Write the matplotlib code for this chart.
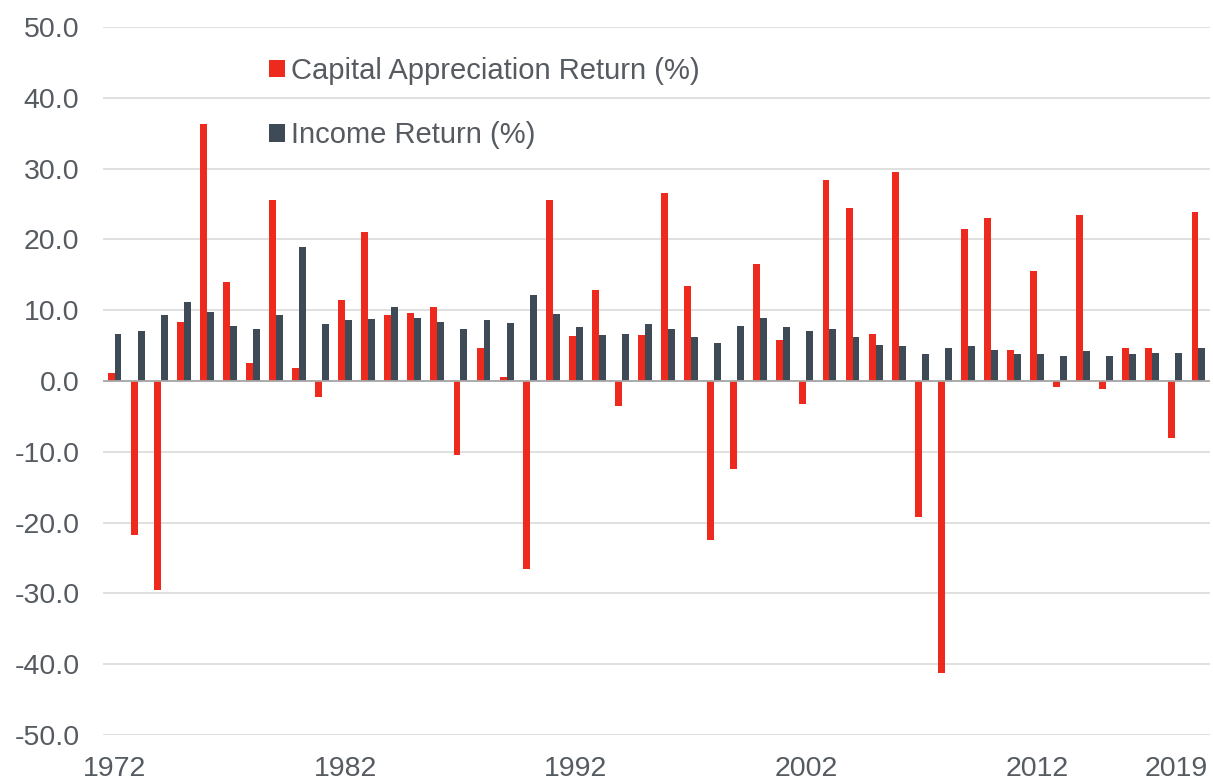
import numpy as np
import matplotlib
matplotlib.use("Agg")
import matplotlib.pyplot as plt
import matplotlib.transforms as mtransforms

##### Data #####

years = list(range(1972, 2020))

capital = [1.1, -21.8, -29.5, 8.4, 36.3, 14.0, 2.5, 25.6, 1.8, -2.2,
           11.4, 21.0, 9.3, 9.6, 10.5, -10.4, 4.7, 0.6, -26.5, 25.6,
           6.4, 12.9, -3.6, 6.5, 26.5, 13.4, -22.4, -12.4, 16.5, 5.8,
           -3.3, 28.4, 24.5, 6.7, 29.5, -19.2, -41.3, 21.4, 23.0, 4.4,
           15.6, -0.9, 23.5, -1.1, 4.7, 4.6, -8.0, 23.9]

income = [6.7, 7.1, 9.3, 11.1, 9.8, 7.8, 7.3, 9.3, 18.9, 8.0,
          8.6, 8.8, 10.5, 8.9, 8.4, 7.3, 8.6, 8.2, 12.1, 9.5,
          7.6, 6.5, 6.7, 8.0, 7.3, 6.2, 5.3, 7.8, 8.9, 7.6,
          7.1, 7.3, 6.2, 5.1, 4.9, 3.8, 4.7, 4.9, 4.4, 3.8,
          3.8, 3.6, 4.2, 3.6, 3.8, 4.0, 4.0, 4.6]

tick_years = [1972, 1982, 1992, 2002, 2012, 2019]

red = '#EE2A1E'
dark = '#3E4A55'
text_col = '#555B61'

##### Plot #####

plt.rcParams['font.family'] = ['Liberation Sans', 'DejaVu Sans']

fig = plt.figure(figsize=(12.13, 7.83), dpi=100)
ax = fig.add_axes([103/1213, 1-735/783, (1210-103)/1213, (735-27)/783])

x = np.arange(len(years))
w = 0.3
ax.bar(x - w/2, capital, w, color=red, label='Capital Appreciation Return (%)', zorder=3)
ax.bar(x + w/2, income, w, color=dark, label='Income Return (%)', zorder=3)

ax.set_xlim(-0.5, len(years) - 0.5)
ax.set_ylim(-50, 50)
ax.set_yticks(np.arange(-50, 51, 10))
ax.set_yticklabels(['%.1f' % v for v in np.arange(-50, 51, 10)])

ax.set_xticks([years.index(y) for y in tick_years])
ax.set_xticklabels([str(y) for y in tick_years])

ax.grid(axis='y', color='#DADADA', lw=1.2, zorder=0)
ax.axhline(0, color='#A8A8A8', lw=1.3, zorder=4)

for s in ax.spines.values():
    s.set_visible(False)

ax.tick_params(axis='y', length=0, pad=17, labelsize=20.5, labelcolor=text_col)
ax.tick_params(axis='x', length=0, pad=15, labelsize=20.5, labelcolor=text_col)

# last label is pulled in so it stays inside the figure
last = ax.get_xticklabels()[-1]
last.set_ha('right')
last.set_transform(last.get_transform() +
                   mtransforms.ScaledTranslation(9/100, 0, fig.dpi_scale_trans))

leg = ax.legend(loc='upper left', bbox_to_anchor=(269/1213, 1-57/783),
                bbox_transform=fig.transFigure, frameon=False,
                fontsize=21, borderpad=0, borderaxespad=0,
                handlelength=0.55, handleheight=0.55, handletextpad=0.2,
                labelspacing=1.25)
for t in leg.get_texts():
    t.set_color(text_col)

fig.savefig('out.png', dpi=100)
